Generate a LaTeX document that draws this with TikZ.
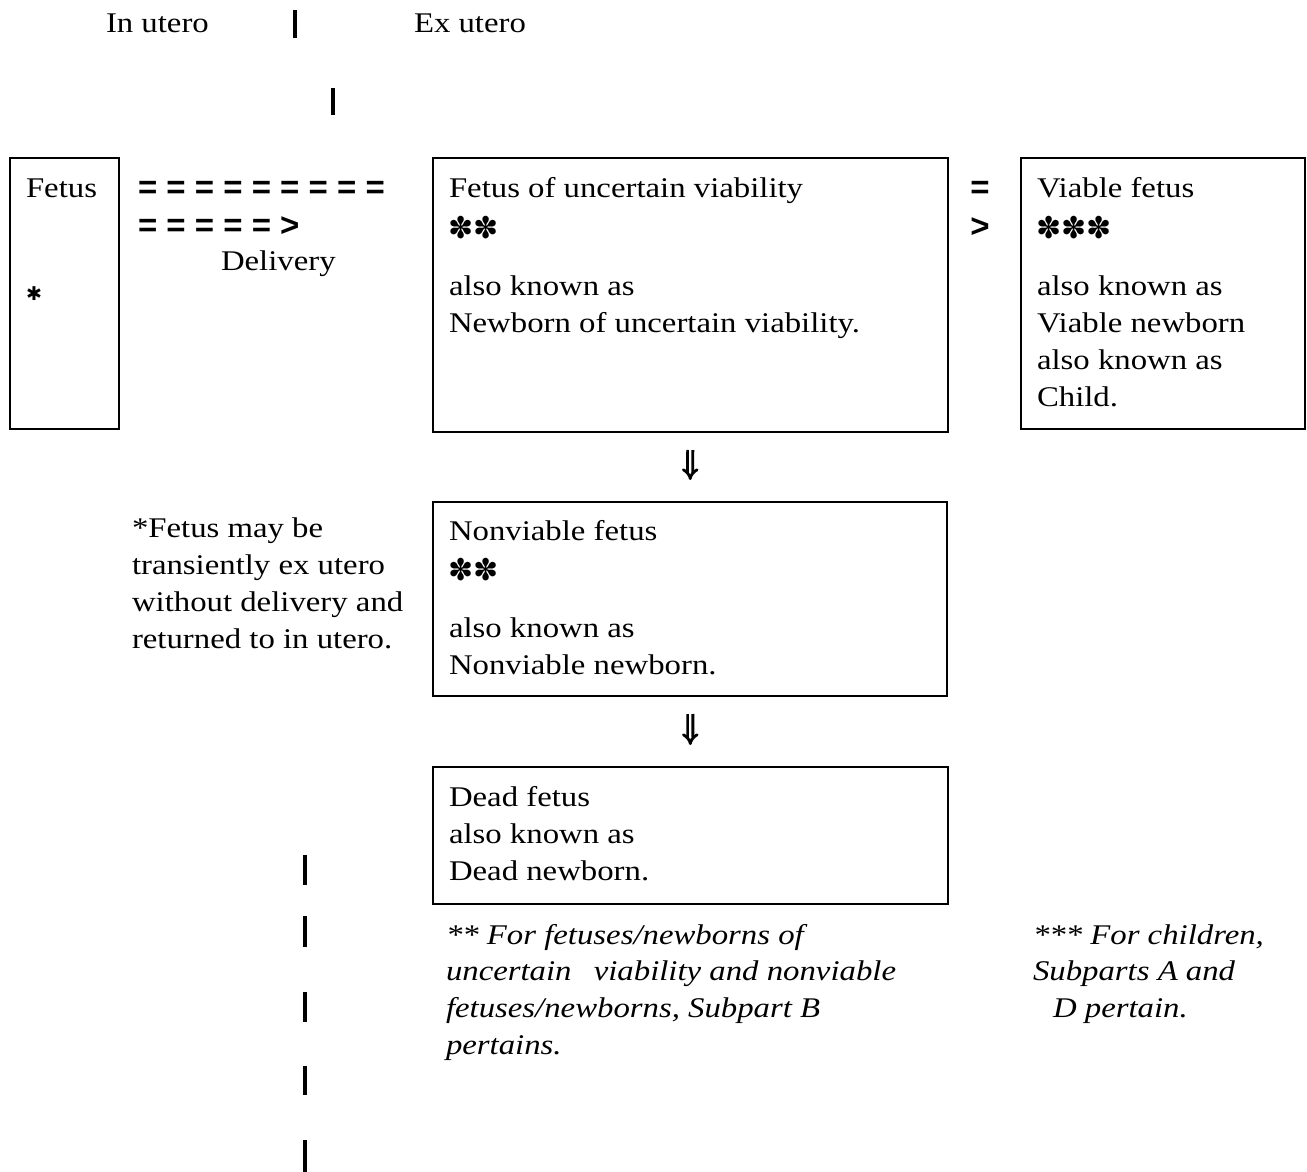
\documentclass[tikz,border=0pt]{standalone}
\usepackage{fontspec}
\setmainfont{Liberation Serif}[FakeStretch=1.15]
\newfontfamily\eqfont{Liberation Sans}
\newfontfamily\symfont{DejaVu Sans}
\usetikzlibrary{arrows.meta}
\begin{document}
\begin{tikzpicture}[x=1pt,y=-1pt,
  every node/.style={inner sep=0pt, outer sep=0pt},
  box/.style={draw, line width=2pt, anchor=north west, inner sep=0pt},
  txt/.style={anchor=base west, font=\fontsize{28.5}{37}\selectfont},
  blk/.style={anchor=north west, align=left, font=\fontsize{28.5}{37}\selectfont},
  note/.style={anchor=north west, align=left, font=\itshape\fontsize{28.5}{36.7}\selectfont},
  eqs/.style={anchor=base west, font=\eqfont\bfseries\fontsize{33}{33}\selectfont},
  stars/.style={anchor=west, font=\symfont\fontsize{30}{30}\selectfont},
  bar/.style={line width=3.2pt},
  implies/.style={double, double distance=2.4pt, line width=2.8pt, -{Implies[length=7pt, width=16pt]}}]
\useasboundingbox (0,0) rectangle (1307,1172);
\fill[white] (0,0) rectangle (1307,1172);
% header
\node[txt] (inu) at (106,33) {In utero};
\node[txt] (exu) at (414,33) {Ex utero};
\draw[bar] (295,10) -- (295,38);
\draw[bar] (333,88) -- (333,115);
% boxes
\node[box, minimum width=109pt, minimum height=271pt] (b1) at (10,158) {};
\node[box, minimum width=515pt, minimum height=274pt] (b2) at (433,158) {};
\node[box, minimum width=284pt, minimum height=271pt] (b3) at (1021,158) {};
\node[box, minimum width=514pt, minimum height=194pt] (b4) at (433,502) {};
\node[box, minimum width=515pt, minimum height=137pt] (b5) at (433,767) {};
% box 1
\node[txt] (t1) at (26,197) {Fetus};
\node[anchor=center, font=\symfont\bfseries\fontsize{19}{19}\selectfont] (s1) at (34,294) {✱};
% delivery arrow text
\node[eqs] (eq1) at (138,198) {= = = = = = = = =};
\node[eqs] (eq2) at (138,236) {= = = = = >};
\node[txt] (del) at (221,270) {Delivery};
% box 2
\node[txt] (t2a) at (449,197) {Fetus of uncertain viability};
\node[stars] (s2) at (448,228) {✽✽};
\node[blk] (t2b) at (449,274) {\rule{0pt}{21pt}also known as\\Newborn of uncertain viability.};
% => between box 2 and box 3
\node[eqs, anchor=base] (eq3) at (980,198) {=};
\node[eqs, anchor=base] (eq4) at (980,237) {>};
% box 3
\node[txt] (t3a) at (1037,197) {Viable fetus};
\node[stars] (s3) at (1036,228) {✽✽✽};
\node[blk] (t3b) at (1037,274) {\rule{0pt}{21pt}also known as\\Viable newborn\\also known as\\Child.};
% box 4
\node[txt] (t4a) at (449,540) {Nonviable fetus};
\node[stars] (s4) at (448,570) {✽✽};
\node[blk] (t4b) at (449,616) {\rule{0pt}{21pt}also known as\\Nonviable newborn.};
% box 5
\node[blk] (t5) at (449,785) {\rule{0pt}{21pt}Dead fetus\\also known as\\Dead newborn.};
% footnote
\node[blk] (fn) at (132,516) {\rule{0pt}{21pt}*Fetus may be\\transiently ex utero\\without delivery and\\returned to in utero.};
% notes
\node[note] (n2) at (446,923) {\rule{0pt}{21pt}** For fetuses/newborns of\\uncertain\hspace{14pt} viability and nonviable\\fetuses/newborns, Subpart B\\pertains.};
\node[note] (n3) at (1033,923) {\rule{0pt}{21pt}*** For children,\\Subparts A and\\\hspace{20pt}D pertain.};
% arrows
\draw[implies, shorten <=18pt, shorten >=22pt] (b2) -- (b4);
\draw[implies, shorten <=18pt, shorten >=22pt] (b4) -- (b5);
% dividing bars
\draw[bar] (305,855) -- (305,885);
\draw[bar] (305,916) -- (305,947);
\draw[bar] (305,992) -- (305,1022);
\draw[bar] (305,1066) -- (305,1095);
\draw[bar] (305,1140) -- (305,1172);
\end{tikzpicture}
\end{document}
